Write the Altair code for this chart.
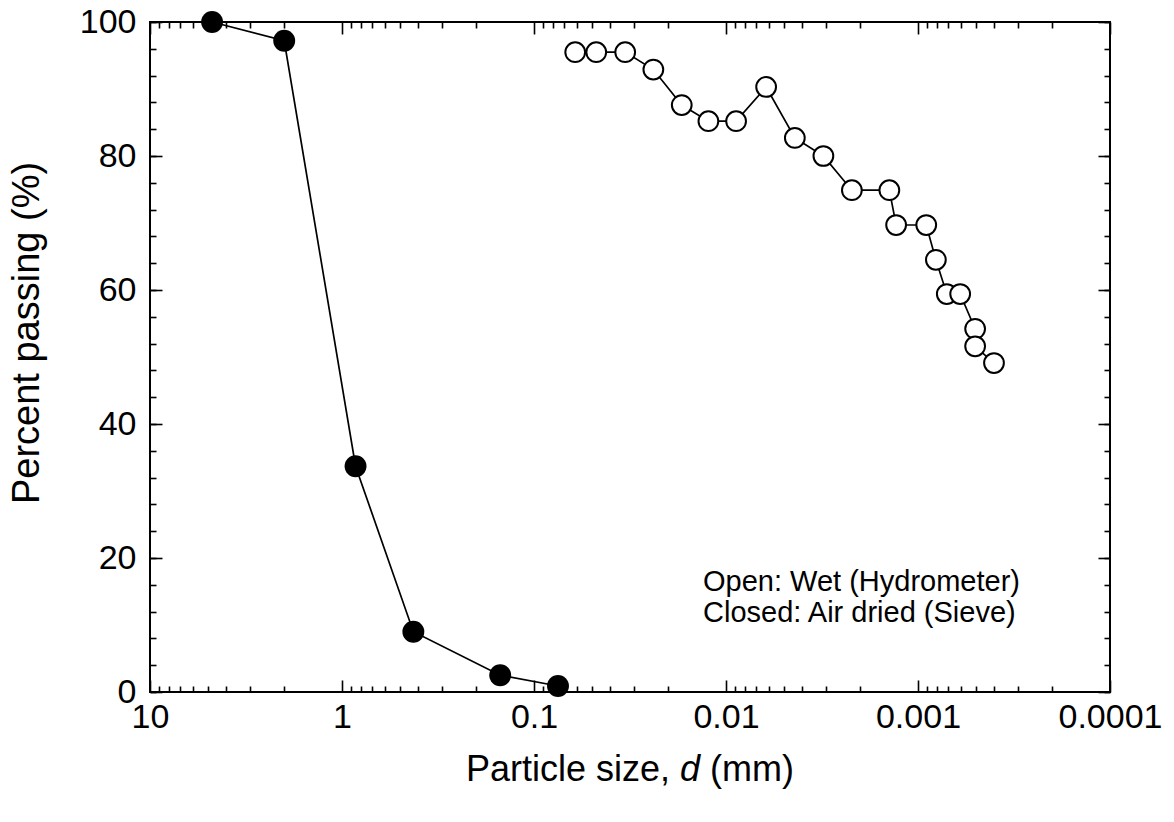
import altair as alt
import pandas as pd

# ---------------- data ----------------
# Closed symbols: Air dried (Sieve)
sieve_d = [4.75, 2.0, 0.85, 0.425, 0.15, 0.075]
sieve_p = [100.0, 97.2, 33.7, 9.0, 2.5, 0.9]

# Open symbols: Wet (Hydrometer)
hydro_d = [0.0610, 0.0474, 0.0335, 0.0239, 0.0170, 0.01235, 0.00886, 0.00618,
           0.00438, 0.00311, 0.00221, 0.00141, 0.00130, 0.000906, 0.000807,
           0.000708, 0.000603, 0.000504, 0.000504, 0.000402]
hydro_p = [95.5, 95.5, 95.5, 92.9, 87.6, 85.2, 85.2, 90.3, 82.7, 80.0,
           74.9, 74.9, 69.7, 69.7, 64.5, 59.4, 59.4, 54.2, 51.6, 49.1]

# axis ticks
x_major = [10, 1, 0.1, 0.01, 0.001, 0.0001]
x_minor = [0.0002, 0.0003, 0.0004, 0.0005, 0.0006, 0.0007, 0.0008, 0.0009,
           0.002, 0.003, 0.004, 0.005, 0.006, 0.007, 0.008, 0.009,
           0.02, 0.03, 0.04, 0.05, 0.06, 0.07, 0.08, 0.09,
           0.2, 0.3, 0.4, 0.5, 0.6, 0.7, 0.8, 0.9,
           2, 3, 4, 5, 6, 7, 8, 9]
y_major = [0, 20, 40, 60, 80, 100]
y_minor = [0, 4, 8, 12, 16, 20, 24, 28, 32, 36, 40, 44, 48, 52, 56, 60,
           64, 68, 72, 76, 80, 84, 88, 92, 96, 100]

note_lines = ["Open: Wet (Hydrometer)", "Closed: Air dried (Sieve)"]
x_title_parts = ["Particle size,", "d", "(mm)"]
y_title = "Percent passing (%)"

df_s = pd.DataFrame({"d": sieve_d, "p": sieve_p, "i": list(range(len(sieve_d)))})
df_h = pd.DataFrame({"d": hydro_d, "p": hydro_p, "i": list(range(len(hydro_d)))})
one = pd.DataFrame({"k": [0]})

# ---------------- layout ----------------
W, H = 960, 670
FONT = "Liberation Sans"
FS_TICK = 34
FS_XTITLE = 36
FS_YTITLE = 38
FS_NOTE = 29
MAJ, MIN = 12, 6

xscale = alt.Scale(type="log", domain=[0.0001, 10], reverse=True, nice=False)
yscale = alt.Scale(domain=[0, 100], nice=False, zero=False)


def xaxis(orient, values, size, labels=False):
    kw = dict(orient=orient, values=values, tickSize=alt.ExprRef(f"{-size}"),
              tickColor="black", tickWidth=1.6, domain=False, grid=False,
              title=None, labels=labels)
    if labels:
        kw.update(format="~g", labelFont=FONT, labelFontSize=FS_TICK,
                  labelColor="black", labelPadding=size + 8, labelFlush=False,
                  labelOverlap=False)
    return alt.Axis(**kw)


def yaxis(orient, values, size, labels=False):
    kw = dict(orient=orient, values=values, tickSize=alt.ExprRef(f"{-size}"),
              tickColor="black", tickWidth=1.6, domain=False, grid=False,
              title=None, labels=labels)
    if labels:
        kw.update(labelFont=FONT, labelFontSize=FS_TICK, labelColor="black",
                  labelPadding=size + 14, labelFlush=False, labelOverlap=False)
    return alt.Axis(**kw)


def enc(ax_x, ax_y):
    return dict(x=alt.X("d:Q", scale=xscale, axis=ax_x),
                y=alt.Y("p:Q", scale=yscale, axis=ax_y),
                order=alt.Order("i:Q"))


sieve_line = alt.Chart(df_s).mark_line(color="black", strokeWidth=1.7).encode(
    **enc(xaxis("bottom", x_major, MAJ, True), yaxis("left", y_major, MAJ, True)))
sieve_pts = alt.Chart(df_s).mark_point(shape="circle", filled=True, size=480,
                                       color="black", opacity=1).encode(
    **enc(xaxis("bottom", x_minor, MIN), yaxis("left", y_minor, MIN)))
hydro_line = alt.Chart(df_h).mark_line(color="black", strokeWidth=1.7).encode(
    **enc(xaxis("top", x_major, MAJ), yaxis("right", y_major, MAJ)))
hydro_pts = alt.Chart(df_h).mark_point(shape="circle", filled=True, size=390,
                                       fill="white", stroke="black",
                                       strokeWidth=2, opacity=1).encode(
    **enc(xaxis("top", x_minor, MIN), yaxis("right", y_minor, MIN)))

# note text (lower-right annotation)
notes = [
    alt.Chart(one).mark_text(align="left", baseline="middle", font=FONT,
                             fontSize=FS_NOTE, color="black").encode(
        x=alt.value(553), y=alt.value(560 + 31 * k), text=alt.value(t))
    for k, t in enumerate(note_lines)
]

# x-axis title with italic "d" (Arial metrics)
em = FS_XTITLE
w_p1 = 5.668 * em
w_sp = 0.278 * em
w_d = 0.556 * em
w_p3 = 2.332 * em
total = w_p1 + w_sp + w_d + w_sp + w_p3
x0 = W / 2 - total / 2
ty = 748
xt1 = alt.Chart(one).mark_text(align="right", baseline="middle", font=FONT,
                               fontSize=FS_XTITLE, color="black").encode(
    x=alt.value(x0 + w_p1), y=alt.value(ty), text=alt.value(x_title_parts[0]))
xt2 = alt.Chart(one).mark_text(align="left", baseline="middle", font=FONT,
                               fontSize=FS_XTITLE, fontStyle="italic",
                               color="black").encode(
    x=alt.value(x0 + w_p1 + w_sp), y=alt.value(ty), text=alt.value(x_title_parts[1]))
xt3 = alt.Chart(one).mark_text(align="left", baseline="middle", font=FONT,
                               fontSize=FS_XTITLE, color="black").encode(
    x=alt.value(x0 + w_p1 + 2 * w_sp + w_d), y=alt.value(ty),
    text=alt.value(x_title_parts[2]))
yt = alt.Chart(one).mark_text(align="center", baseline="middle", font=FONT,
                              fontSize=FS_YTITLE, angle=270, color="black").encode(
    x=alt.value(-122), y=alt.value(311), text=alt.value(y_title))

chart = alt.layer(
    sieve_line, sieve_pts, hydro_line, hydro_pts, *notes, xt1, xt2, xt3, yt
).resolve_axis(x="independent", y="independent").properties(
    width=W, height=H,
    autosize=alt.AutoSizeParams(type="none"),
    padding={"left": 150, "top": 22, "right": 64, "bottom": 130},
    background="white",
).configure_view(stroke="black", strokeWidth=2)

chart.save("out.html", embed_options={"renderer": "svg", "actions": False})
